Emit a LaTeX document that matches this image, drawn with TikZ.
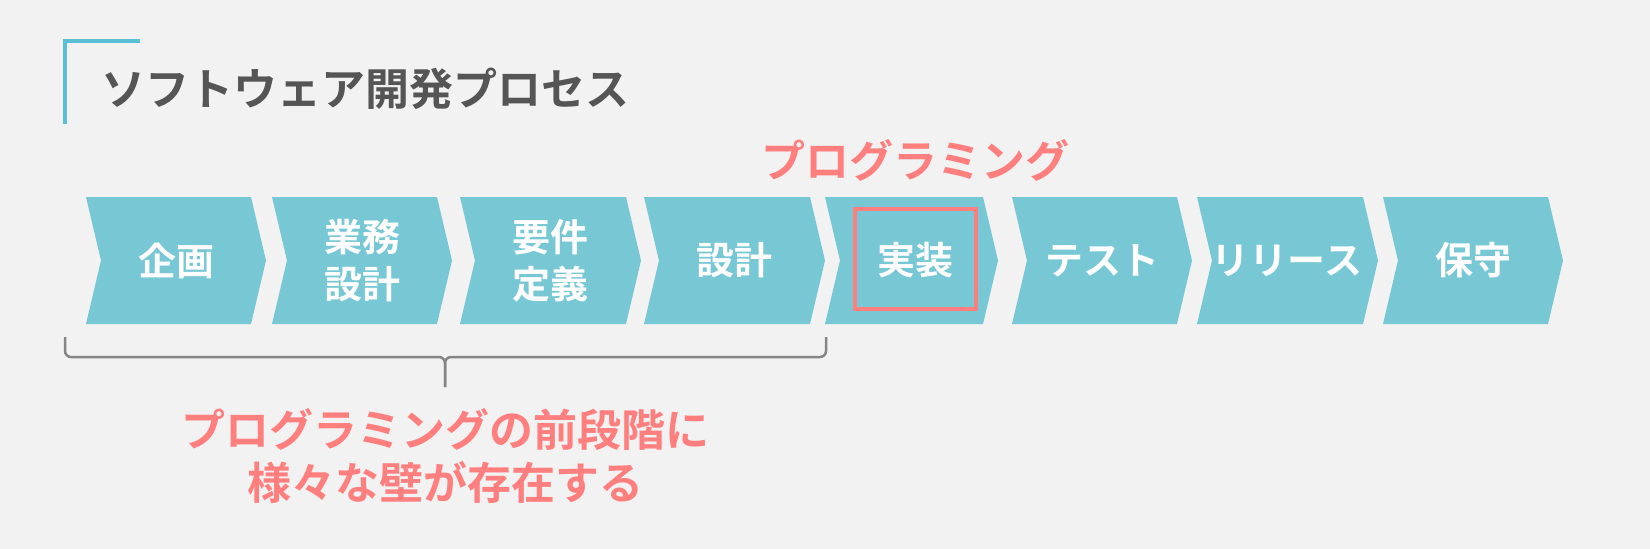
\documentclass[tikz,border=0pt]{standalone}
\usepackage{fontspec}
\newfontfamily\jpfont{Noto Sans CJK JP}[UprightFont=* Medium,BoldFont=* Bold]
\definecolor{bgcol}{HTML}{F2F2F2}
\definecolor{chevcol}{HTML}{77C7D4}
\definecolor{pinkcol}{HTML}{FF7F7F}
\definecolor{titlecol}{HTML}{555555}
\definecolor{barcol}{HTML}{5ABFD5}
\definecolor{bracecol}{HTML}{858585}

\begin{document}
\begin{tikzpicture}[x=1pt,y=-1pt,
    chevron/.style={fill=chevcol},
    steptext/.style={text=white,inner sep=0,align=center,
      font=\jpfont\bfseries\fontsize{38}{47.5}\selectfont},
    pinktext/.style={text=pinkcol,inner sep=0,align=center,
      font=\jpfont\bfseries\fontsize{44}{53}\selectfont}]
        \fill[bgcol] (0,0) rectangle (1650,549);
        \useasboundingbox (0,0) rectangle (1650,549);

        % title with corner bar
        \draw[barcol,line width=4] (140,41) -- (65,41) -- (65,124);
        \node[anchor=west,inner sep=0,text=titlecol,font=\jpfont\bfseries\fontsize{44}{53}\selectfont] (title) at (101,89) {ソフトウェア開発プロセス};

        % process steps
        \foreach \n/\x/\w/\txt in {1/86/165/企画, 2/272/165/{業務\\設計}, 3/460/166/{要件\\定義}, 4/644/166/設計,
                                   5/825/158/実装, 6/1012/165/テスト, 7/1197/166/リリース, 8/1383/165/保守}
        {
          \fill[chevron] (\x,197) -- (\x+\w,197) -- (\x+\w+15,260.5) -- (\x+\w,324) -- (\x,324) -- (\x+15,260.5) -- cycle;
          \node[steptext] (s\n) at (\x+90,260.5) {\txt};
        }

        \node[draw=pinkcol,line width=4,minimum width=121,minimum height=100,inner sep=0] (implbox) at (915.5,259) {};
        \node[pinktext] (prog) at (915.5,160) {プログラミング};

        % brace under the first four steps
        \draw[bracecol,line width=2.5,rounded corners=6] (65,337) -- (65,357) -- (445,357) -- (445,387);
        \draw[bracecol,line width=2.5,rounded corners=6] (826,337) -- (826,357) -- (445,357) -- (445,387);

        \node[pinktext] (note) at (445,456.5) {プログラミングの前段階に\\様々な壁が存在する};

      \end{tikzpicture}
\end{document}
